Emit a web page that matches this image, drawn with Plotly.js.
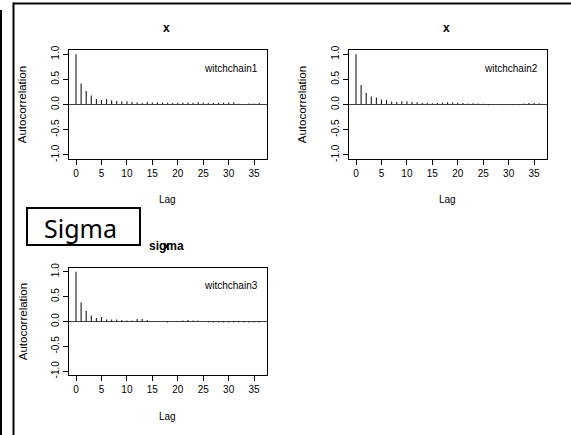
<!DOCTYPE html>
<html>
<head>
<meta charset="utf-8">
<script src="https://cdn.plot.ly/plotly-3.0.1.min.js"></script>
<style>html,body{margin:0;padding:0;background:#fff}#chart{width:571px;height:435px}</style>
</head>
<body>
<div id="chart"></div>
<script>
// ---- data ----
const lags = [0,1,2,3,4,5,6,7,8,9,10,11,12,13,14,15,16,17,18,19,20,21,22,23,24,25,26,27,28,29,30,31,32,33,34,35,36];
const witchchain1 = [1.00,0.42,0.27,0.18,0.11,0.09,0.11,0.085,0.07,0.06,0.065,0.05,0.04,0.03,0.05,0.04,0.04,0.04,0.035,0.03,0.035,0.035,0.04,0.035,0.045,0.035,0.03,0.03,0.035,0.035,0.04,0.045,0.015,0.005,0.02,0.02,0.03];
const witchchain2 = [1.00,0.39,0.23,0.16,0.14,0.10,0.09,0.06,0.05,0.065,0.065,0.05,0.045,0.03,0.03,0.025,0.03,0.035,0.045,0.04,0.035,0.03,0.02,0.025,0.02,0.015,-0.015,0.005,0.0,0.01,0.0,-0.015,0.01,0.02,0.03,0.03,0.025];
const witchchain3 = [1.00,0.38,0.21,0.12,0.07,0.09,0.04,0.04,0.04,0.03,0.02,0.02,0.05,0.05,0.03,0.01,0.0,0.0,-0.02,0.0,0.01,0.02,0.03,0.02,0.02,0.01,-0.02,-0.02,-0.02,-0.02,-0.02,-0.02,-0.02,-0.02,-0.02,-0.02,-0.02];
const chainNames = ["witchchain1","witchchain2","witchchain3"];
const panelTitles = ["x","x","sigma"];
const xTicks = [0,5,10,15,20,25,30,35];
const yTicks = [-1,-0.5,0,0.5,1];
const yTickText = ["-1.0","-0.5","0.0","0.5","1.0"];

// ---- helpers (pixel -> paper) ----
const W = 571, H = 435;
const px = x => x / W;
const py = y => 1 - y / H;
const FONT = "Liberation Sans, Arial, sans-serif";

// vertical spikes (type "h") built from the data arrays
function spikes(vals) {
  const xs = [], ys = [];
  lags.forEach((l, k) => { xs.push(l, l, null); ys.push(0, vals[k], null); });
  return {xs, ys};
}
const series = [witchchain1, witchchain2, witchchain3];
const traces = series.map((vals, i) => {
  const s = spikes(vals);
  return {
    type: "scatter", mode: "lines",
    x: s.xs, y: s.ys, connectgaps: false,
    line: {color: "#1a1a1a", width: 1.1},
    xaxis: i === 0 ? "x" : "x" + (i + 1),
    yaxis: i === 0 ? "y" : "y" + (i + 1),
    hoverinfo: "skip"
  };
});

function xax(domain, anchor) {
  return {
    domain: domain, anchor: anchor,
    range: [-1.44, 37.44], tickvals: xTicks,
    ticks: "outside", ticklen: 5, tickcolor: "#000", tickwidth: 1,
    showline: true, linecolor: "#000", linewidth: 1, mirror: true,
    showgrid: false, zeroline: false,
    tickfont: {family: FONT, size: 10, color: "#000"},
    fixedrange: true
  };
}
function yax(domain, anchor) {
  return {
    domain: domain, anchor: anchor,
    range: [-1.08, 1.08], tickvals: yTicks, ticktext: yTickText, tickangle: -90,
    ticks: "outside", ticklen: 5, tickcolor: "#000", tickwidth: 1,
    showline: true, linecolor: "#000", linewidth: 1, mirror: true,
    showgrid: false, zeroline: true, zerolinecolor: "#444", zerolinewidth: 1,
    tickfont: {family: FONT, size: 10, color: "#000"},
    fixedrange: true
  };
}

const boxes = [
  {l: 68.7, r: 266.5, t: 50.2, b: 158.8},
  {l: 348.7, r: 546.5, t: 50.2, b: 158.8},
  {l: 68.7, r: 266.5, t: 267.7, b: 375.3}
];

const layout = {
  width: W, height: H,
  margin: {l: 0, r: 0, t: 0, b: 0},
  paper_bgcolor: "#fff", plot_bgcolor: "#fff",
  showlegend: false,
  font: {family: FONT, color: "#000"},
  annotations: [],
  shapes: []
};
boxes.forEach((b, i) => {
  const s = i === 0 ? "" : String(i + 1);
  layout["xaxis" + s] = xax([px(b.l), px(b.r)], "y" + s);
  layout["yaxis" + s] = yax([py(b.b), py(b.t)], "x" + s);
  const cx = (b.l + b.r) / 2;
  // axis titles
  layout.annotations.push({xref: "paper", yref: "paper", x: px(cx), y: py(b.b + 41), text: "Lag",
    showarrow: false, xanchor: "center", yanchor: "middle", font: {family: FONT, size: 10}});
  layout.annotations.push({xref: "paper", yref: "paper", x: px(b.l - 46), y: py((b.t + b.b) / 2), text: "Autocorrelation",
    textangle: -90, showarrow: false, xanchor: "center", yanchor: "middle", font: {family: FONT, size: 11.5}});
  // chain label
  layout.annotations.push({xref: "paper", yref: "paper", x: px(b.r - 7), y: py(b.t + 18), text: chainNames[i],
    showarrow: false, xanchor: "right", yanchor: "middle", font: {family: FONT, size: 10}});
  // panel title
  layout.annotations.push({xref: "paper", yref: "paper", x: px(cx - 1), y: py(b.t - 22), text: "<b>" + panelTitles[i] + "</b>",
    showarrow: false, xanchor: "center", yanchor: "middle", font: {family: FONT, size: 12}});
});
// overprinted "x" on the sigma title
layout.annotations.push({xref: "paper", yref: "paper", x: px(166.6), y: py(245.7), text: "<b>x</b>",
  showarrow: false, xanchor: "center", yanchor: "middle", font: {family: FONT, size: 12}});
// Sigma label box
layout.annotations.push({xref: "paper", yref: "paper", x: px(80), y: py(228), text: "Sigma",
  showarrow: false, xanchor: "center", yanchor: "middle", font: {family: "Noto Sans, sans-serif", size: 25, color: "#000"}});
layout.shapes.push({type: "rect", xref: "paper", yref: "paper", x0: px(27), x1: px(140), y0: py(208), y1: py(245),
  line: {color: "#000", width: 2}, fillcolor: "rgba(0,0,0,0)"});
// outer frame lines
layout.shapes.push({type: "line", xref: "paper", yref: "paper", x0: px(13.5), x1: px(13.5), y0: py(2.5), y1: py(435), line: {color: "#000", width: 2}});
layout.shapes.push({type: "line", xref: "paper", yref: "paper", x0: px(13), x1: px(571), y0: py(3.5), y1: py(3.5), line: {color: "#000", width: 2}});
layout.shapes.push({type: "line", xref: "paper", yref: "paper", x0: px(1), x1: px(1), y0: py(10), y1: py(435), line: {color: "#000", width: 2}});

Plotly.newPlot("chart", traces, layout, {displayModeBar: false, staticPlot: true});
</script>
</body>
</html>
